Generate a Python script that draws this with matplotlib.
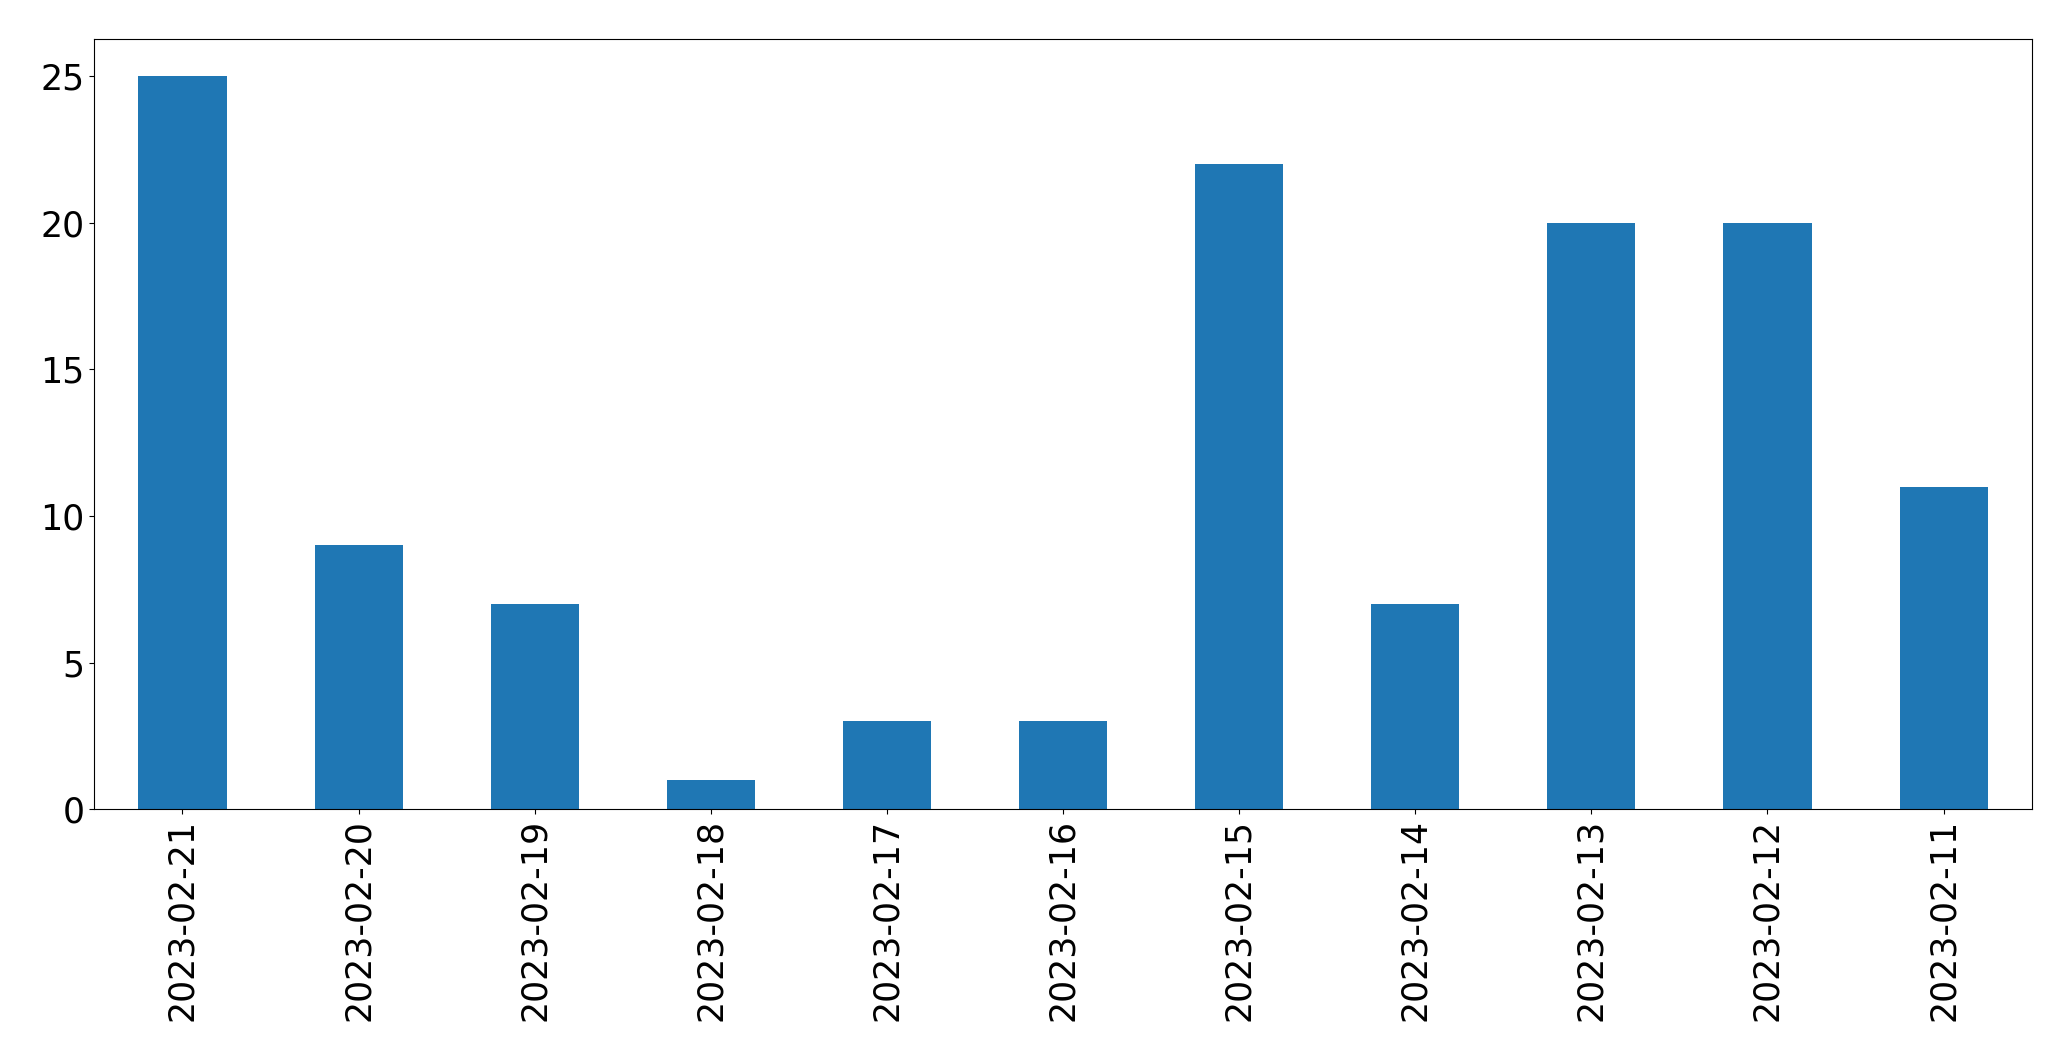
import matplotlib
matplotlib.use("Agg")
import matplotlib.pyplot as plt

dates = ["2023-02-21", "2023-02-20", "2023-02-19", "2023-02-18", "2023-02-17",
         "2023-02-16", "2023-02-15", "2023-02-14", "2023-02-13", "2023-02-12",
         "2023-02-11"]
counts = [25, 9, 7, 1, 3, 3, 22, 7, 20, 20, 11]

fig = plt.figure(figsize=(20.71, 10.61), dpi=100)
ax = fig.add_axes([0.0456, 0.2372, 0.981 - 0.0456, 0.9628 - 0.2372])
pos = list(range(len(dates)))
ax.bar(pos, counts, width=0.5, color="#1f77b4")
ax.set_xlim(-0.5, len(dates) - 0.5)
ax.set_xticks(pos)
ax.set_xticklabels(dates, rotation=90, fontsize=25)
ax.tick_params(axis="y", labelsize=25)
fig.savefig("out.png", dpi=100)
